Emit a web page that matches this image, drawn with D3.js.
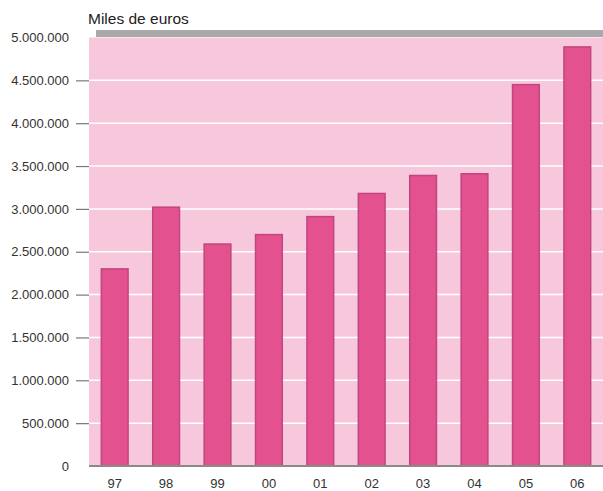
<!DOCTYPE html>
<html>
<head>
<meta charset="utf-8">
<script src="https://cdn.jsdelivr.net/npm/d3@7"></script>
<style>
  body { margin: 0; background: #fff; }
  text { font-family: "Liberation Sans", Arial, sans-serif; }
</style>
</head>
<body>
<script>
var years = ["97", "98", "99", "00", "01", "02", "03", "04", "05", "06"];
var values = [2300000, 3020000, 2590000, 2700000, 2910000, 3180000, 3390000, 3410000, 4450000, 4890000];
var yTicks = [0, 500000, 1000000, 1500000, 2000000, 2500000, 3000000, 3500000, 4000000, 4500000, 5000000];

var width = 603, height = 491;
var plotLeft = 89, plotRight = 603, plotTop = 37.5, plotBottom = 466;

var svg = d3.select("body").append("svg")
    .attr("width", width)
    .attr("height", height);

var x = d3.scaleBand()
    .domain(years)
    .range([plotLeft, plotRight])
    .paddingInner(0.48)
    .paddingOuter(0.24);

var y = d3.scaleLinear()
    .domain([0, 5000000])
    .range([plotBottom, plotTop]);

function fmt(d) {
    return d3.format(",")(d).replace(/,/g, ".");
}

// gray band on top
svg.append("rect")
    .attr("x", 96)
    .attr("y", 30)
    .attr("width", plotRight - 96)
    .attr("height", 7)
    .attr("fill", "#a9a9a9");

// pink background
svg.append("rect")
    .attr("x", plotLeft)
    .attr("y", plotTop)
    .attr("width", plotRight - plotLeft)
    .attr("height", plotBottom - plotTop)
    .attr("fill", "#f7c7dc");

// grid lines
svg.selectAll(".grid")
    .data(yTicks.filter(function (d) { return d > 0 && d < 5000000; }))
    .enter().append("line")
    .attr("class", "grid")
    .attr("x1", plotLeft)
    .attr("x2", plotRight)
    .attr("y1", function (d) { return y(d); })
    .attr("y2", function (d) { return y(d); })
    .attr("stroke", "#ffffff")
    .attr("stroke-width", 1.5);

// y axis
var yAxis = d3.axisLeft(y)
    .tickValues(yTicks)
    .tickFormat(fmt)
    .tickSize(13)
    .tickPadding(7);

var ya = svg.append("g")
    .attr("transform", "translate(" + plotLeft + ",0)")
    .call(yAxis);
ya.select(".domain").remove();
ya.selectAll(".tick text")
    .attr("fill", "#333")
    .style("font-size", "13px")
    .style("font-family", "Liberation Sans, Arial, sans-serif");
ya.selectAll(".tick line")
    .attr("stroke", "#777")
    .attr("stroke-width", 1.2)
    .filter(function (d) { return d == 0 || d == 5000000; })
    .remove();

// bars
svg.selectAll(".bar")
    .data(values)
    .enter().append("rect")
    .attr("class", "bar")
    .attr("x", function (d, i) { return x(years[i]); })
    .attr("y", function (d) { return y(d); })
    .attr("width", x.bandwidth())
    .attr("height", function (d) { return plotBottom - y(d); })
    .attr("fill", "#e3528f")
    .attr("stroke", "#c2457f")
    .attr("stroke-width", 1.5);

// baseline
svg.append("line")
    .attr("x1", plotLeft)
    .attr("x2", plotRight)
    .attr("y1", plotBottom)
    .attr("y2", plotBottom)
    .attr("stroke", "#8a8a8a")
    .attr("stroke-width", 2);

// x labels
var xAxis = d3.axisBottom(x).tickSize(0).tickPadding(13);
var xa = svg.append("g")
    .attr("transform", "translate(0," + plotBottom + ")")
    .call(xAxis);
xa.select(".domain").remove();
xa.selectAll(".tick text")
    .attr("fill", "#333")
    .style("font-size", "13px")
    .style("font-family", "Liberation Sans, Arial, sans-serif");

// title
svg.append("text")
    .attr("x", 88)
    .attr("y", 24)
    .attr("fill", "#222")
    .style("font-size", "15.5px")
    .text("Miles de euros");
</script>
</body>
</html>
